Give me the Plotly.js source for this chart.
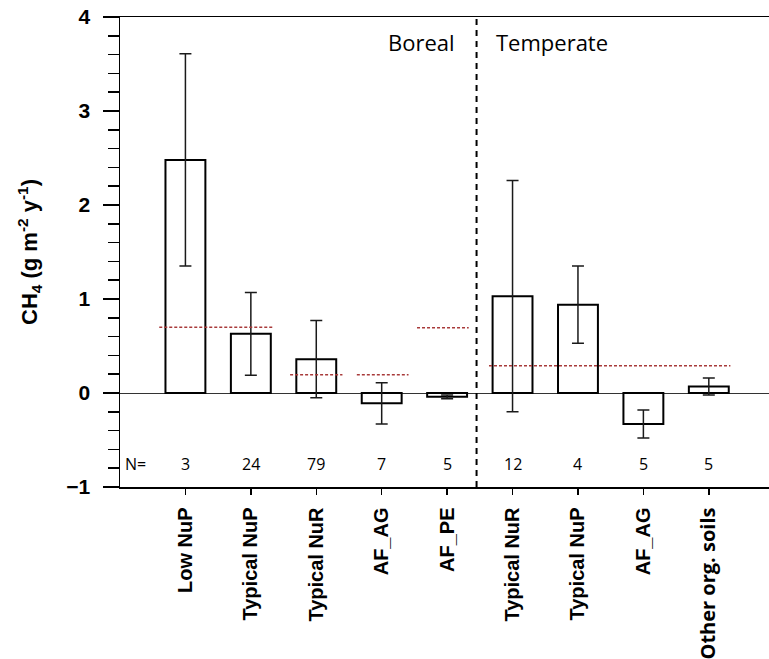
<!DOCTYPE html>
<html>
<head>
<meta charset="utf-8">
<script src="https://cdn.plot.ly/plotly-3.0.1.min.js"></script>
<style>html,body{margin:0;padding:0;background:#fff;}#chart{width:769px;height:659px;}</style>
</head>
<body>
<div id="chart"></div>
<script>
// ---- data ----
const categories = ["Low NuP", "Typical NuP", "Typical NuR", "AF_AG", "AF_PE",
                    "Typical NuR", "Typical NuP", "AF_AG", "Other org. soils"];
const meanFlux = [2.48, 0.63, 0.36, -0.11, -0.04, 1.03, 0.94, -0.33, 0.07];
const errFlux  = [1.13, 0.44, 0.41, 0.22, 0.02, 1.23, 0.41, 0.15, 0.09];
const sampleN  = [3, 24, 79, 7, 5, 12, 4, 5, 5];
// reference (default / emission factor) lines: value and category span
const refValue = [0.70, 0.195, 0.195, 0.695, 0.29];
const refFrom  = [-0.40, 1.60, 2.62, 3.54, 4.64];
const refTo    = [1.33, 2.40, 3.41, 4.33, 8.33];
const regionSplit = 4.45;   // boundary between Boreal and Temperate groups
const regionNames = ["Boreal", "Temperate"];
const yTicks = [-1, 0, 1, 2, 3, 4];

const idx = categories.map((_, i) => i);
const tickText = categories.map((c, i) =>
  i === categories.length - 1 ? "<span style=\"font-family:'Open Sans'\">" + c + "</span>" : c);

const traces = [];
traces.push({
  type: "bar",
  x: idx,
  y: meanFlux,
  width: 0.61,
  marker: {color: "#ffffff", line: {color: "#000000", width: 2}},
  error_y: {type: "data", array: errFlux, visible: true, color: "#1a1a1a", thickness: 1.5, width: 6},
  hoverinfo: "skip",
  showlegend: false
});
refValue.forEach((v, i) => {
  traces.push({
    type: "scatter",
    mode: "lines",
    x: [refFrom[i], refTo[i]],
    y: [v, v],
    line: {color: "#a83a3a", width: 1.5, dash: "3px,2px"},
    hoverinfo: "skip",
    showlegend: false
  });
});

const smallFont = {family: "'Open Sans', Lato, sans-serif", size: 16, color: "#000"};
const annotations = [];
annotations.push({
  x: -0.77, y: -0.755, xref: "x", yref: "y", text: "N=", showarrow: false, font: smallFont
});
sampleN.forEach((n, i) => {
  annotations.push({
    x: i, y: -0.755, xref: "x", yref: "y", text: String(n), showarrow: false, font: smallFont
  });
});
annotations.push({
  x: regionSplit - 0.3, y: 3.73, xref: "x", yref: "y", text: regionNames[0], showarrow: false,
  xanchor: "right", font: {family: "'Open Sans', Lato, sans-serif", size: 22, color: "#000"}
});
annotations.push({
  x: regionSplit + 0.26, y: 3.73, xref: "x", yref: "y", text: regionNames[1], showarrow: false,
  xanchor: "left", font: {family: "'Open Sans', Lato, sans-serif", size: 22, color: "#000"}
});

const layout = {
  width: 769,
  height: 659,
  margin: {l: 120, r: 0, t: 17, b: 172},
  paper_bgcolor: "#ffffff",
  plot_bgcolor: "#ffffff",
  showlegend: false,
  bargap: 0.39,
  xaxis: {
    range: [-1, 8.92],
    tickvals: idx,
    ticktext: tickText,
    tickangle: -90,
    ticks: "outside",
    ticklen: 6,
    tickwidth: 1.5,
    tickcolor: "#000",
    ticklabelstandoff: 5,
    showline: true,
    linecolor: "#000",
    linewidth: 1.5,
    mirror: true,
    showgrid: false,
    zeroline: false,
    tickfont: {family: "'Liberation Sans', Arial, sans-serif", size: 20, color: "#000", weight: "bold"}
  },
  yaxis: {
    range: [-1, 4],
    tickvals: yTicks,
    ticks: "outside",
    ticklen: 16,
    tickwidth: 1.5,
    tickcolor: "#000",
    ticklabelstandoff: 8,
    minor: {dtick: 0.2, ticks: "outside", ticklen: 11, tickwidth: 1.5, tickcolor: "#000", showgrid: false},
    showline: true,
    linecolor: "#000",
    linewidth: 1.5,
    showgrid: false,
    zeroline: true,
    zerolinecolor: "#333",
    zerolinewidth: 1,
    tickfont: {family: "'Liberation Sans', Arial, sans-serif", size: 21, color: "#000", weight: "bold"},
    title: {
      text: "CH<sub>4</sub> (g m<sup>-2</sup> y<sup>-1</sup>)",
      font: {family: "'Liberation Sans', Arial, sans-serif", size: 22, color: "#000", weight: "bold"},
      standoff: 22
    }
  },
  shapes: [{
    type: "line", xref: "x", yref: "paper", x0: regionSplit, x1: regionSplit, y0: 0, y1: 1,
    line: {color: "#000", width: 2, dash: "6px,5px"}
  }],
  annotations: annotations
};

Plotly.newPlot("chart", traces, layout, {displayModeBar: false, staticPlot: true});
</script>
</body>
</html>
